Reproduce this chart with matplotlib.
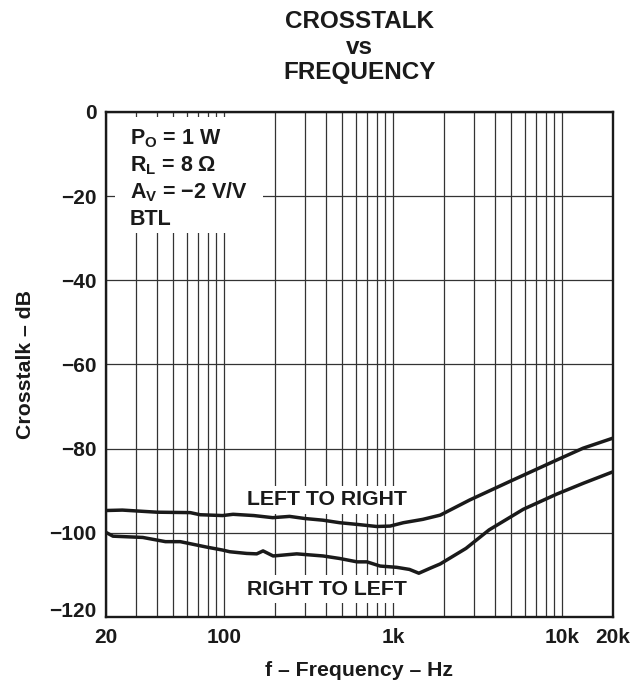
import numpy as np
import matplotlib
matplotlib.use("Agg")
import matplotlib.pyplot as plt
import matplotlib.transforms as mtransforms
from matplotlib.patches import Rectangle

plt.rcParams["font.family"] = ["Liberation Sans", "DejaVu Sans"]
plt.rcParams["font.weight"] = "bold"
plt.rcParams["mathtext.fontset"] = "custom"
plt.rcParams["mathtext.rm"] = "Liberation Sans:bold"
plt.rcParams["mathtext.it"] = "Liberation Sans:bold"
plt.rcParams["mathtext.bf"] = "Liberation Sans:bold"
plt.rcParams["mathtext.default"] = "rm"

# Kriva LEFT TO RIGHT
lr_freq = [20, 25, 40, 63, 72, 98, 113, 150, 194, 244, 300, 385, 483, 612,
           800, 960, 1150, 1500, 1900, 2840, 4900, 9300, 13300, 20000]
lr_db = [-94.7, -94.6, -95.1, -95.2, -95.7, -95.9, -95.6, -95.9, -96.4, -96.1,
         -96.6, -97.0, -97.6, -98.0, -98.5, -98.4, -97.6, -96.8, -95.8, -92.2,
         -87.8, -82.7, -79.9, -77.5]

# Kriva RIGHT TO LEFT
rl_freq = [20, 22, 33, 45, 55, 79, 98, 108, 136, 156, 170, 195, 222, 269, 385,
           483, 612, 700, 838, 1050, 1250, 1420, 1660, 1900, 2700, 3700, 5900,
           9300, 13400, 20000]
rl_db = [-99.9, -100.8, -101.1, -102.1, -102.1, -103.4, -104.1, -104.5, -104.9,
         -105.0, -104.3, -105.5, -105.3, -105.0, -105.5, -106.1, -106.9, -106.9,
         -107.9, -108.2, -108.7, -109.6, -108.4, -107.4, -103.7, -99.3, -94.4,
         -90.8, -88.2, -85.5]

x_major = [20, 100, 1000, 10000, 20000]
x_major_labels = ["20", "100", "1k", "10k", "20k"]
x_minor = [m * d for d in (10, 100, 1000, 10000) for m in range(2, 10)
           if 20 < m * d < 20000 and m * d not in x_major]
y_ticks = [0, -20, -40, -60, -80, -100, -120]
y_labels = ["0", "\u221220", "\u221240", "\u221260", "\u221280", "\u2212100", "\u2212120"]

conditions = ["P$_O$ = 1 W", "R$_L$ = 8 \u03a9", "A$_V$ = \u22122 V/V", "BTL"]

fig = plt.figure(figsize=(6.35, 6.81), dpi=100)
ax = fig.add_axes([0.1669, 0.0940, 0.7984, 0.7416])

ax.plot(lr_freq, lr_db, color="#1a1a1a", lw=2.5, zorder=4)
ax.plot(rl_freq, rl_db, color="#1a1a1a", lw=2.5, zorder=4)

ax.set_xscale("log")
ax.set_xlim(20, 20000)
ax.set_ylim(-120, 0)
ax.set_xticks(x_major)
ax.set_xticklabels(x_major_labels, fontsize=15, fontweight="bold")
ax.set_xticks(x_minor, minor=True)
ax.set_xticklabels([], minor=True)
ax.set_yticks(y_ticks)
ax.set_yticklabels(y_labels, fontsize=15, fontweight="bold")
ax.tick_params(which="both", length=0, colors="#1a1a1a")
ax.tick_params(axis="x", pad=8)
ax.tick_params(axis="y", pad=7)
ax.grid(which="both", color="#333333", lw=0.9)

# -120 etiketa malo iznad
lab = ax.get_yticklabels()[-1]
lab.set_transform(lab.get_transform() + mtransforms.ScaledTranslation(0, 7 / 100, fig.dpi_scale_trans))

for s in ax.spines.values():
    s.set_linewidth(1.7)
    s.set_color("#1a1a1a")
    s.set_zorder(5)

ax.set_xlabel("f \u2013 Frequency \u2013 Hz", fontsize=15.3, fontweight="bold",
              labelpad=10, color="#1a1a1a")
ax.set_ylabel("Crosstalk \u2013 dB", fontsize=15.3, fontweight="bold",
              labelpad=10, color="#1a1a1a")

fig.text(0.566, 0.985, "CROSSTALK\nvs\nFREQUENCY", ha="center", va="top",
         fontsize=17.5, fontweight="bold", linespacing=1.14, color="#1a1a1a")

# Okvir sa uslovima
ax.add_patch(Rectangle((0.018, 0.76), 0.292, 0.23, transform=ax.transAxes,
                       facecolor="white", edgecolor="none", zorder=2))
for i, txt in enumerate(conditions):
    ax.text(0.047, 0.935 - i * 0.053, txt, transform=ax.transAxes,
            fontsize=15.5, fontweight="bold", va="baseline", ha="left",
            color="#1a1a1a", zorder=3)

ax.text(405, -92.2, "LEFT TO RIGHT", ha="center", va="center", fontsize=15.3,
        fontweight="bold", color="#1a1a1a", zorder=3,
        bbox=dict(facecolor="white", edgecolor="none", pad=3))
ax.text(405, -113.4, "RIGHT TO LEFT", ha="center", va="center", fontsize=15.3,
        fontweight="bold", color="#1a1a1a", zorder=3,
        bbox=dict(facecolor="white", edgecolor="none", pad=3))

fig.savefig("out.png", dpi=100)
